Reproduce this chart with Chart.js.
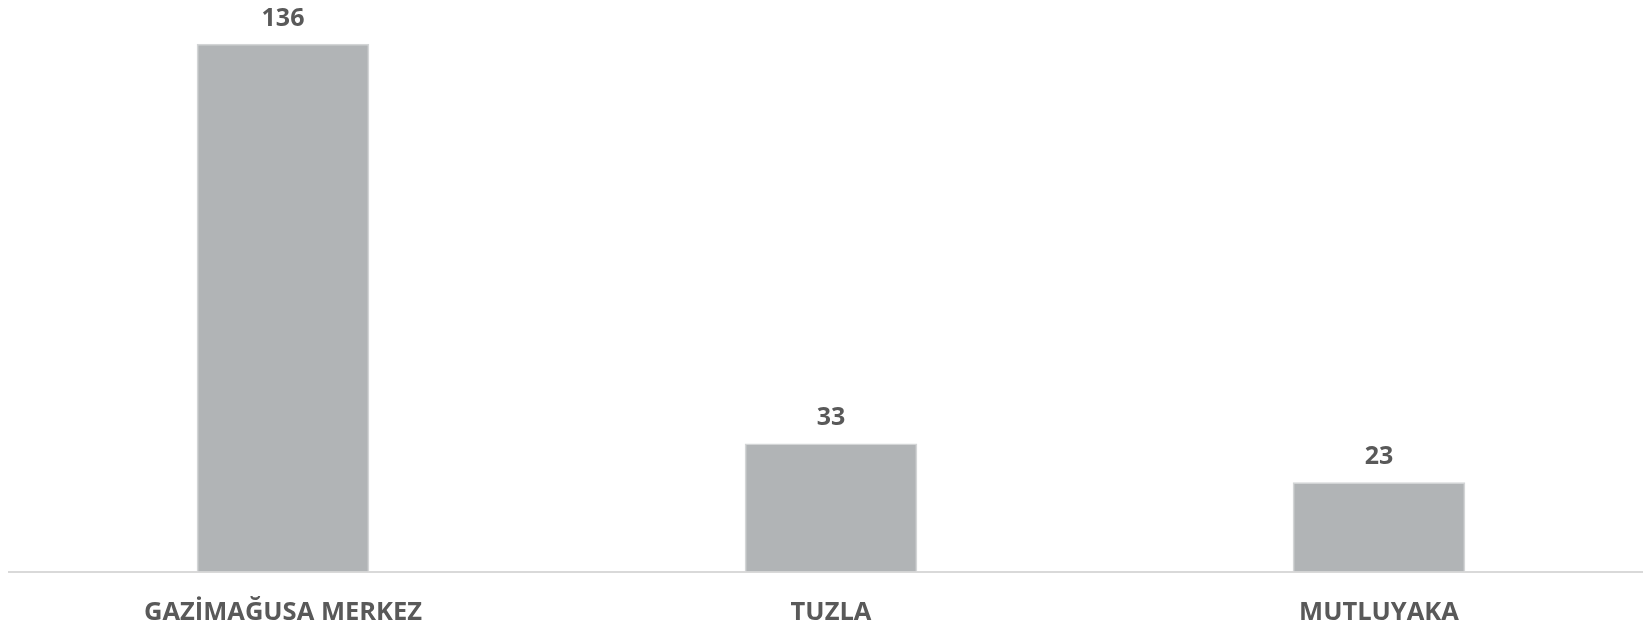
<!DOCTYPE html>
<html>
<head>
<meta charset="utf-8">
<script src="https://cdn.jsdelivr.net/npm/chart.js@4"></script>
<style>
  html, body { margin: 0; padding: 0; background: #fff; overflow: hidden; }
  #wrap { width: 1660px; height: 627px; }
</style>
</head>
<body>
<div id="wrap"><canvas id="barChart"></canvas></div>
<script>
const categories = ['GAZİMAĞUSA MERKEZ', 'TUZLA', 'MUTLUYAKA'];
const values = [136, 33, 23];
const yMax = 147;

// Draw value labels above each bar
const valueLabels = {
  id: 'valueLabels',
  afterDatasetsDraw(chart) {
    const ctx = chart.ctx;
    const meta = chart.getDatasetMeta(0);
    ctx.save();
    ctx.font = 'bold 25px "Open Sans"';
    ctx.fillStyle = '#595959';
    ctx.textAlign = 'center';
    ctx.textBaseline = 'alphabetic';
    meta.data.forEach((bar, i) => {
      ctx.fillText(values[i], bar.x, bar.y - 18);
    });
    ctx.restore();
  }
};

const ctx = document.getElementById('barChart').getContext('2d');
new Chart(ctx, {
  type: 'bar',
  data: {
    labels: categories,
    datasets: [{
      data: values,
      backgroundColor: '#b1b4b6',
      borderColor: '#d3d5d6',
      borderWidth: 1.5,
      barPercentage: 0.315,
      categoryPercentage: 1
    }]
  },
  options: {
    responsive: true,
    maintainAspectRatio: false,
    animation: false,
    layout: { padding: { left: 9, right: 7, top: 1, bottom: 0 } },
    plugins: {
      legend: { display: false },
      tooltip: { enabled: false }
    },
    scales: {
      x: {
        grid: { display: false },
        border: { display: true, color: '#d9d9d9', width: 2 },
        ticks: {
          color: '#595959',
          font: { family: 'Open Sans', weight: 'bold', size: 25.5 },
          padding: 18,
          maxRotation: 0
        },
        afterFit(scale) { scale.height = 55.5; }
      },
      y: {
        display: false,
        min: 0,
        max: yMax
      }
    }
  },
  plugins: [valueLabels]
});
</script>
</body>
</html>
